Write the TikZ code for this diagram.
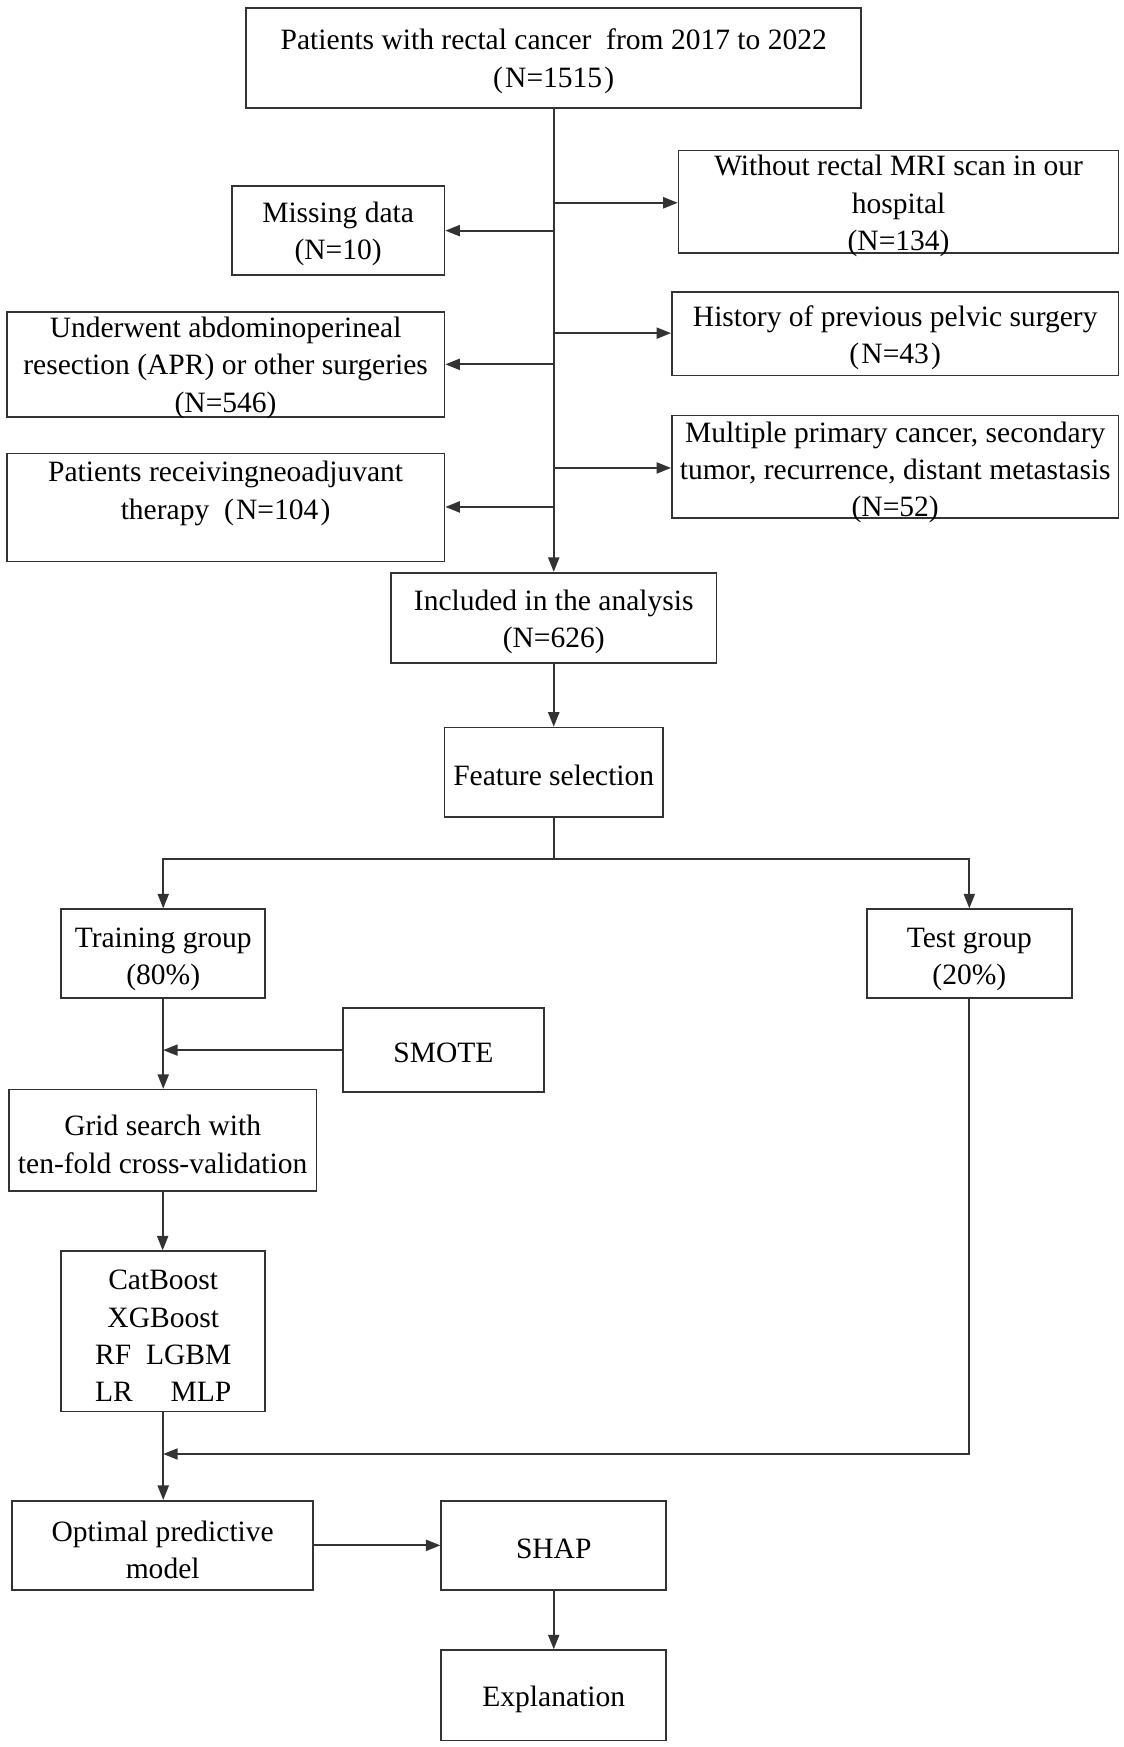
\documentclass[tikz,border=0pt]{standalone}
\usepackage{fontspec}
\setmainfont{Liberation Serif}
\usetikzlibrary{arrows.meta}
\definecolor{lc}{RGB}{51,51,51}
\begin{document}
\begin{tikzpicture}[x=1pt,y=-1pt,
  font=\fontsize{26.5pt}{33.5pt}\selectfont,
  box/.style={draw=lc, line width=1.5pt, inner sep=0pt, rectangle},
  txt/.style={align=center, inner sep=0pt, text=black},
  arr/.style={draw=lc, line width=1.6pt, -{Triangle[length=13pt,width=10pt]}},
  ln/.style={draw=lc, line width=1.6pt}]
\useasboundingbox (0,0) rectangle (1008,1568);
% boxes
\node[box, minimum width=552pt, minimum height=90pt] (top) at (497,52) {};
\node[box, minimum width=191pt, minimum height=80pt] (miss) at (303.5,207) {};
\node[box, minimum width=395pt, minimum height=92pt] (mri) at (806.5,181) {};
\node[box, minimum width=393pt, minimum height=94pt] (apr) at (202.5,327) {};
\node[box, minimum width=401pt, minimum height=75pt] (hist) at (803.5,299.5) {};
\node[box, minimum width=401pt, minimum height=92pt] (multi) at (803.5,419) {};
\node[box, minimum width=393pt, minimum height=97pt] (neo) at (202.5,455.5) {};
\node[box, minimum width=292pt, minimum height=81pt] (incl) at (497,554.5) {};
\node[box, minimum width=196pt, minimum height=80pt] (feat) at (497,693) {};
\node[box, minimum width=183pt, minimum height=80pt] (train) at (146.5,856) {};
\node[box, minimum width=184pt, minimum height=80pt] (test) at (870,856) {};
\node[box, minimum width=180pt, minimum height=75pt] (smote) at (398,942.5) {};
\node[box, minimum width=276pt, minimum height=91pt] (grid) at (146,1023.5) {};
\node[box, minimum width=183pt, minimum height=144pt] (models) at (146.5,1195) {};
\node[box, minimum width=270pt, minimum height=80pt] (opt) at (146,1387) {};
\node[box, minimum width=202pt, minimum height=80pt] (shap) at (497,1387) {};
\node[box, minimum width=202pt, minimum height=81pt] (expl) at (497,1521.5) {};
% texts
\node[txt] (ttop) at (497,55) {Patients with rectal cancer\ \ from 2017 to 2022\\(\kern2pt N=1515\kern2pt)};
\node[txt] (tmiss) at (303.5,210) {Missing data\\(N=10)};
\node[txt] (tmri) at (806.5,185) {Without rectal MRI scan in our\\hospital\\(N=134)};
\node[txt] (tapr) at (202.5,330) {Underwent abdominoperineal\\resection (APR) or other surgeries\\(N=546)};
\node[txt] (thist) at (803.5,303) {History of previous pelvic surgery\\(\kern2pt N=43\kern2pt)};
\node[txt] (tmulti) at (803.5,424) {Multiple primary cancer, secondary\\tumor, recurrence, distant metastasis\\(N=52)};
\node[txt] (tneo) at (202.5,443) {Patients receivingneoadjuvant\\therapy\ \ (\kern2pt N=104\kern2pt)};
\node[txt] (tincl) at (497,558) {Included in the analysis\\(N=626)};
\node[txt] (tfeat) at (497,696) {Feature selection};
\node[txt] (ttrain) at (146.5,861) {Training group\\(80\%)};
\node[txt] (ttest) at (870,861) {Test group\\(20\%)};
\node[txt] (tsmote) at (398,945) {SMOTE};
\node[txt] (tgrid) at (146,1027) {Grid search with\\ten-fold cross-validation};
\node[txt] (tmodels) at (146.5,1199) {CatBoost\\XGBoost\\RF\ \ LGBM\\LR\hspace{34pt}MLP};
\node[txt] (topt) at (146,1391) {Optimal predictive\\model};
\node[txt] (tshap) at (497,1390) {SHAP};
\node[txt] (texpl) at (497,1525) {Explanation};
% trunk
\draw[arr] (top.south) -- (incl.north);
\coordinate (b1) at (497,182);
\coordinate (b2) at (497,207);
\coordinate (b3) at (497,299);
\coordinate (b4) at (497,327);
\coordinate (b5) at (497,420);
\coordinate (b6) at (497,455);
\draw[arr] (b1) -- (b1 -| mri.west);
\draw[arr] (b2) -- (b2 -| miss.east);
\draw[arr] (b3) -- (b3 -| hist.west);
\draw[arr] (b4) -- (b4 -| apr.east);
\draw[arr] (b5) -- (b5 -| multi.west);
\draw[arr] (b6) -- (b6 -| neo.east);
\draw[arr] (incl.south) -- (feat.north);
% split
\coordinate (fs) at (497,771);
\draw[ln] (feat.south) -- (fs);
\draw[arr] (fs) -| (train.north);
\draw[arr] (fs) -| (test.north);
% training path
\draw[arr] (train.south) -- (train.south |- grid.north);
\draw[arr] (smote.west) -- (smote.west -| train.south);
\draw[arr] (grid.south) -- (grid.south |- models.north);
\draw[arr] (models.south) -- (models.south |- opt.north);
\coordinate (mj) at (146.5,1305);
\draw[arr] (test.south) -- (test.south |- mj) -- (mj);
\draw[arr] (opt.east) -- (shap.west);
\draw[arr] (shap.south) -- (expl.north);
\end{tikzpicture}
\end{document}
